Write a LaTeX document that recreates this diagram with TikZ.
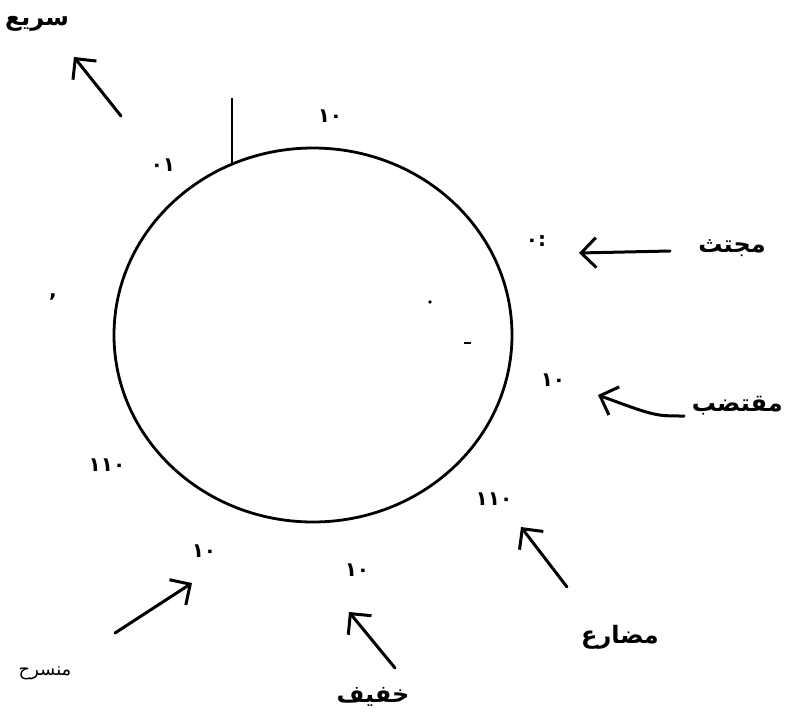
\documentclass[tikz,border=0pt]{standalone}
\usepackage{fontspec}
\usetikzlibrary{arrows.meta,shapes.geometric}
\TeXXeTstate=1
\newfontfamily\arabicfont[Script=Arabic]{DejaVu Sans}
\newfontfamily\digfont{DejaVu Sans}
\begin{document}
\begin{tikzpicture}[x=1pt,y=-1pt,
  lbl/.style={font=\arabicfont\bfseries\fontsize{24}{28}\selectfont, inner sep=0pt},
  num/.style={font=\digfont\bfseries\fontsize{20}{22}\selectfont, inner sep=0pt},
  arr/.style={line width=3pt, line cap=round, -{Straight Barb[length=15pt,width=30pt,line width=3pt]}},
  ring/.style={line width=2.8pt}]
\useasboundingbox (0,0) rectangle (785,723);
% circle
\node[ring, draw, ellipse, minimum width=398pt, minimum height=374pt, inner sep=0pt] (c) at (313,335) {};
\coordinate (vt) at (232,98);
\coordinate (vb) at (232,163);
\draw[line width=2.6pt] (vt) -- (vb);
% labels
\node[lbl] (sari) at (37,24) {\beginR سريع\endR};
\node[lbl] (mujt) at (732,248) {\beginR مجتث\endR};
\node[lbl, anchor=east] (muqt) at (783,406) {\beginR مقتضب\endR};
\node[lbl] (muda) at (620,637) {\beginR مضارع\endR};
\node[lbl] (khaf) at (373,697) {\beginR خفيف\endR};
\node[lbl, font=\arabicfont\fontsize{18}{20}\selectfont] (muns) at (45,673) {\beginR منسرح\endR};
% numerals
\node[num] (n1) at (330,116) {١٠};
\node[num] (n2) at (163,165) {٠١};
\node[num] (n3) at (536,241) {٠:};
\node[num] (n4) at (553,380) {١٠};
\node[num] (n5) at (53,297) {,};
\node[num] (n6) at (107,465) {١١٠};
\node[num] (n7) at (204,551) {١٠};
\node[num] (n8) at (357,570) {١٠};
\node[num] (n9) at (494,499) {١١٠};
% small marks inside
\fill (430,302) circle (1.8pt);
\draw[line width=1.6pt] (464,343) -- (471,343);
% arrow ends
\coordinate (a1s) at (121,116); \coordinate (a1e) at (74,57);
\coordinate (a2s) at (670,251); \coordinate (a2e) at (579,253);
\coordinate (a3s) at (684,416); \coordinate (a3e) at (598,395);
\coordinate (a4s) at (567,587); \coordinate (a4e) at (521,527);
\coordinate (a5s) at (395,668); \coordinate (a5e) at (349,612);
\coordinate (a6s) at (115,633); \coordinate (a6e) at (192,583);
\draw[arr] (a1s) -- (a1e);
\draw[arr] (a2s) -- (a2e);
\draw[arr] (a3s) .. controls (655,416) .. (a3e);
\draw[arr] (a4s) -- (a4e);
\draw[arr] (a5s) -- (a5e);
\draw[arr] (a6s) -- (a6e);
\end{tikzpicture}
\end{document}
